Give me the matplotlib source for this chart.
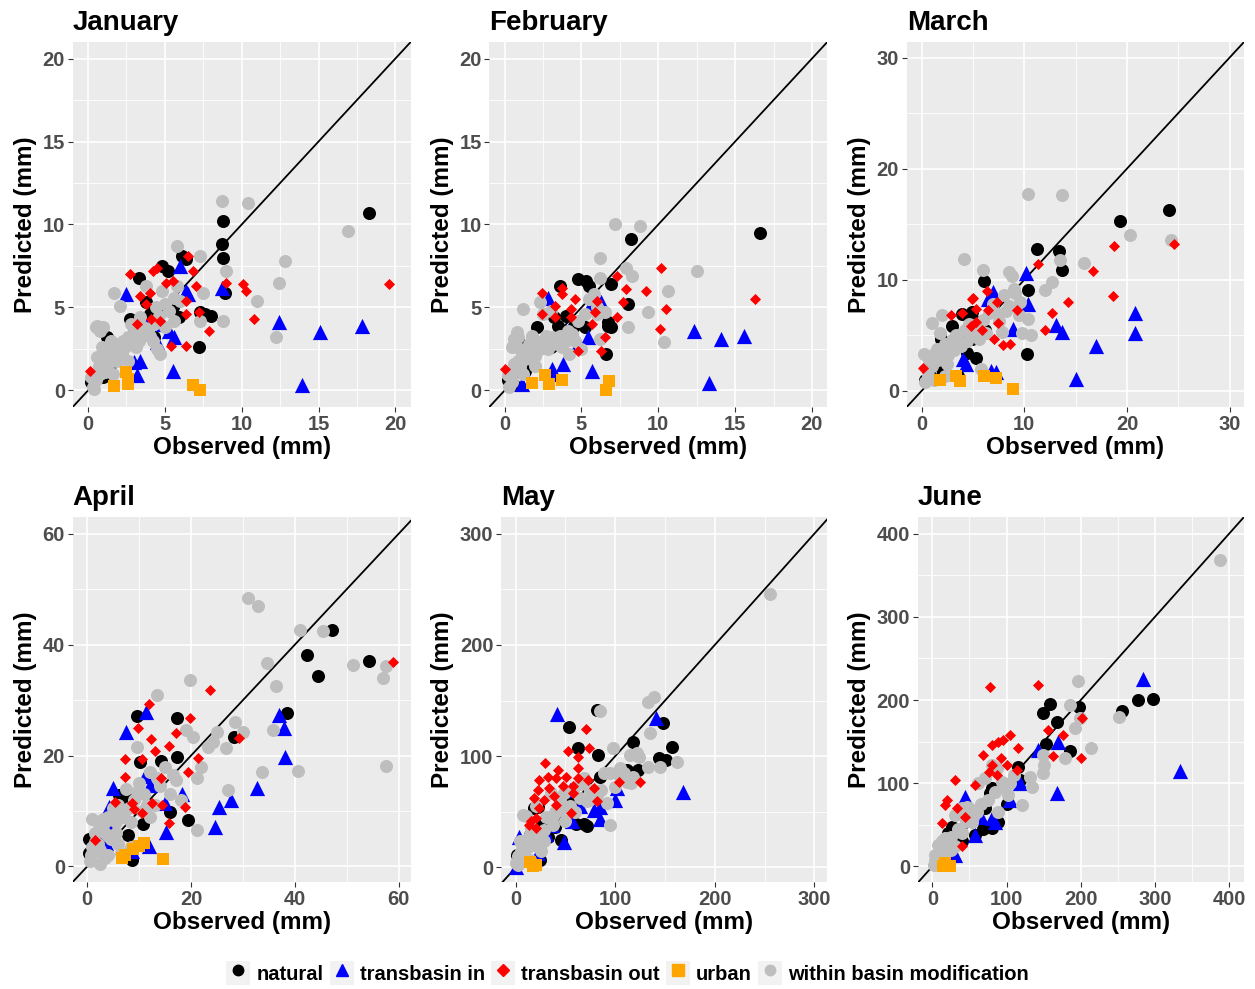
import matplotlib.pyplot as plt
from matplotlib.lines import Line2D
from matplotlib.patches import Patch
from matplotlib.legend_handler import HandlerTuple
from matplotlib.ticker import MultipleLocator

plt.rcParams['font.family'] = ['Liberation Sans', 'DejaVu Sans']
plt.rcParams['font.weight'] = 'bold'

# ------------------------------------------------
# data: (observed, predicted) pairs
# ------------------------------------------------
groups = ['natural', 'transbasin in', 'transbasin out', 'urban', 'within basin modification']
months = ['January', 'February', 'March', 'April', 'May', 'June']

jan_natural = [(18.3, 10.7), (8.8, 10.2), (8.7, 8.8), (8.8, 8.0), (8.9, 5.9), (7.6, 4.6), (8.0, 4.5), (7.3, 4.7),
               (7.2, 2.6), (6.1, 8.1), (6.4, 7.9), (4.8, 7.5), (5.2, 7.2), (3.3, 6.8), (3.8, 5.3), (4.0, 4.6),
               (2.7, 4.3), (4.3, 3.2), (1.2, 3.2), (1.4, 1.2), (5.9, 4.4), (5.5, 5.0), (0.2, 0.5), (1.0, 0.8), (2.0, 2.4)]
jan_trans_in = [(17.8, 3.9), (15.1, 3.5), (12.4, 4.1), (13.9, 0.35), (8.7, 6.2), (5.5, 1.2), (5.3, 3.6), (6.0, 7.5),
                (6.4, 6.0), (6.5, 5.8), (2.5, 5.8), (3.4, 1.8), (3.2, 0.9), (4.5, 2.9), (3.6, 4.3), (2.7, 3.4),
                (4.9, 4.0), (5.6, 3.2), (3.0, 1.7), (1.2, 1.8)]
jan_trans_out = [(19.6, 6.4), (10.8, 4.3), (10.1, 6.4), (10.3, 6.0), (9.0, 6.5), (7.9, 3.6), (7.2, 4.7), (7.0, 6.3),
                 (6.8, 7.2), (6.5, 8.1), (6.4, 4.6), (6.4, 2.7), (5.4, 2.7), (6.4, 5.4), (2.7, 7.0), (4.2, 7.2),
                 (4.5, 7.4), (3.4, 5.7), (4.0, 5.9), (5.1, 6.5), (5.5, 6.6), (4.1, 4.3), (3.2, 4.0), (4.7, 4.2),
                 (0.1, 1.2), (3.8, 5.2)]
jan_urban = [(1.7, 0.25), (2.5, 1.1), (2.6, 0.4), (2.6, 0.7), (6.8, 0.3), (7.3, 0.0)]
jan_within = [(8.7, 11.4), (10.4, 11.3), (16.9, 9.6), (12.8, 7.8), (12.4, 6.5), (11.0, 5.4), (12.2, 3.2), (8.8, 4.2),
              (9.0, 7.2), (7.3, 8.1), (5.8, 8.7), (1.7, 5.9), (2.1, 5.1), (0.6, 3.9), (1.0, 3.8), (7.3, 4.2),
              (4.7, 2.2), (7.5, 5.9), (0.3, 0.2), (0.5, 0.6), (0.8, 1.0), (1.0, 1.5), (1.3, 2.0), (1.5, 2.5),
              (1.8, 2.2), (2.0, 2.8), (2.3, 3.0), (2.6, 3.2), (3.0, 3.5), (3.3, 3.0), (3.6, 3.8), (4.0, 3.3),
              (4.3, 4.0), (4.6, 4.5), (5.0, 5.2), (5.3, 4.8), (5.6, 5.6), (4.8, 6.0), (3.8, 6.3), (0.6, 2.0),
              (0.9, 2.6), (1.2, 2.4), (2.6, 1.8), (1.6, 1.0), (0.4, 0.1), (5.0, 3.8), (6.0, 5.4), (4.5, 2.5),
              (0.2, 0.8), (0.7, 1.5), (1.1, 1.1), (1.4, 1.7), (1.9, 1.8), (2.2, 2.2), (2.4, 2.6), (2.8, 2.9),
              (3.1, 2.6), (3.5, 3.3), (3.9, 3.6), (4.2, 3.0), (0.5, 3.8), (0.8, 3.6), (1.5, 3.0), (2.8, 4.0),
              (4.4, 5.0), (3.4, 4.4), (5.8, 6.3), (5.6, 4.2)]

feb_natural = [(16.6, 9.5), (8.2, 9.1), (8.0, 5.2), (6.9, 6.4), (6.9, 3.8), (6.7, 4.1), (6.6, 2.2), (4.8, 6.7),
               (5.3, 6.6), (5.5, 6.3), (5.2, 3.8), (4.5, 3.9), (3.6, 6.3), (3.2, 4.4), (3.5, 3.9), (3.4, 3.1),
               (2.1, 3.8), (1.0, 2.8), (1.3, 1.2), (0.2, 0.6), (6.7, 3.9), (4.0, 4.5), (3.0, 2.6), (0.6, 0.3)]
feb_trans_in = [(12.3, 3.6), (14.1, 3.1), (15.6, 3.3), (13.3, 0.45), (5.7, 1.2), (5.4, 3.2), (5.6, 5.2), (2.8, 5.6),
                (3.8, 1.6), (3.1, 1.3), (4.0, 3.6), (1.7, 2.0), (1.1, 0.4), (6.3, 5.3), (4.8, 2.8), (1.7, 3.2),
                (2.2, 2.9), (3.1, 1.0)]
feb_trans_out = [(16.3, 5.5), (10.2, 7.4), (10.5, 4.9), (10.1, 3.7), (9.2, 6.0), (7.9, 6.1), (7.7, 5.3), (7.3, 6.9),
                 (7.3, 4.4), (6.5, 3.2), (6.3, 2.4), (5.9, 4.7), (5.7, 4.0), (4.8, 2.4), (4.3, 4.9), (4.6, 5.5),
                 (3.7, 6.2), (3.7, 5.8), (3.3, 5.1), (2.4, 4.6), (2.4, 5.9), (0.0, 1.3), (6.0, 5.4), (3.3, 4.4),
                 (4.3, 4.4)]
feb_urban = [(1.8, 0.45), (2.6, 0.9), (2.9, 0.4), (3.7, 0.65), (6.6, 0.0), (6.8, 0.55)]
feb_within = [(7.2, 10.0), (8.8, 9.9), (6.2, 8.0), (6.2, 6.8), (12.5, 7.2), (10.6, 6.0), (9.3, 4.7), (10.4, 2.9),
              (8.0, 3.8), (7.9, 7.4), (8.3, 6.9), (1.2, 4.9), (2.3, 5.3), (0.6, 3.1), (0.8, 3.5), (6.5, 4.7),
              (6.2, 3.1), (0.3, 0.2), (0.5, 0.5), (0.7, 1.2), (0.9, 1.8), (1.1, 2.2), (1.4, 2.5), (1.6, 2.0),
              (1.9, 2.4), (2.2, 2.8), (2.5, 3.0), (2.8, 2.5), (3.1, 3.2), (3.4, 2.8), (3.7, 2.6), (4.0, 3.0),
              (4.4, 3.4), (4.8, 4.2), (5.5, 5.5), (6.0, 5.0), (0.4, 1.0), (1.2, 1.0), (2.0, 1.5), (2.5, 4.6),
              (3.0, 4.8), (4.2, 2.2), (1.8, 3.3), (5.0, 2.5), (6.0, 4.6), (0.8, 2.6),
              (0.2, 0.9), (0.6, 1.6), (1.0, 1.4), (1.3, 1.9), (1.6, 2.8), (2.0, 2.1), (2.3, 2.5), (2.7, 3.3),
              (3.2, 2.9), (3.6, 3.3), (4.1, 3.6), (4.6, 3.0), (0.5, 2.6), (0.9, 3.2), (5.2, 4.6), (5.8, 5.8)]

mar_natural = [(24.1, 16.3), (19.3, 15.3), (11.2, 12.8), (13.4, 12.6), (13.7, 10.9), (10.4, 9.1), (10.3, 3.3),
               (6.1, 9.9), (4.9, 7.1), (4.9, 4.7), (4.4, 3.4), (5.3, 3.0), (3.5, 1.3), (3.0, 5.8), (1.9, 4.7),
               (2.0, 2.0), (0.7, 1.5), (5.4, 6.2), (3.9, 6.9), (6.2, 5.5), (4.9, 6.5), (0.3, 1.0)]
mar_trans_in = [(20.8, 7.0), (20.8, 5.2), (17.0, 4.0), (15.0, 1.1), (13.7, 5.3), (13.1, 5.9), (10.4, 7.8),
                (10.2, 10.6), (7.0, 8.9), (6.8, 7.4), (6.5, 8.3), (8.9, 5.6), (6.8, 1.8), (4.3, 2.4), (4.0, 2.9),
                (2.2, 3.8), (4.7, 5.6), (1.8, 3.4), (7.2, 1.7)]
mar_trans_out = [(24.6, 13.2), (18.7, 13.0), (18.6, 8.5), (16.7, 10.8), (14.3, 8.0), (12.7, 7.0), (12.0, 5.5),
                 (11.3, 11.4), (9.3, 7.3), (8.6, 4.2), (7.9, 4.1), (7.4, 6.1), (7.1, 4.7), (5.9, 5.5), (4.9, 8.3),
                 (3.9, 7.0), (2.9, 6.8), (0.1, 2.1), (6.4, 9.0), (5.0, 8.4), (5.3, 7.4), (5.3, 6.2), (6.5, 7.3),
                 (7.3, 8.0), (4.8, 5.8)]
mar_urban = [(8.9, 0.2), (7.2, 1.2), (6.1, 1.3), (3.7, 0.9), (3.4, 1.3), (1.8, 1.0)]
mar_within = [(10.4, 17.7), (13.7, 17.6), (20.3, 14.0), (24.3, 13.6), (15.8, 11.5), (13.5, 11.8), (4.1, 11.9),
              (1.0, 6.1), (6.0, 10.9), (8.5, 10.7), (12.7, 9.8), (12.0, 9.1), (10.4, 6.5), (10.7, 5.0), (9.8, 5.2),
              (5.8, 2.0), (2.0, 6.8), (9.1, 8.8), (8.8, 10.3), (0.3, 0.8), (0.6, 1.4), (0.8, 2.3), (1.0, 3.0),
              (1.3, 3.4), (1.6, 2.8), (2.0, 3.6), (2.3, 4.2), (2.6, 3.2), (3.0, 4.6), (3.4, 5.0), (3.8, 4.0),
              (4.2, 5.5), (4.6, 6.0), (5.0, 5.2), (5.6, 4.7), (6.0, 6.4), (6.6, 7.0), (7.0, 7.8), (7.5, 6.3),
              (8.0, 8.6), (8.5, 7.6), (9.0, 9.2), (9.5, 6.8), (7.8, 5.3), (0.2, 3.3), (2.3, 1.3), (1.2, 1.0),
              (0.5, 1.9), (1.0, 2.2), (1.5, 3.8), (2.5, 2.4), (3.2, 3.7), (3.6, 4.4), (4.4, 4.5), (5.2, 5.9),
              (6.3, 5.2), (7.2, 7.0), (8.2, 7.2), (1.8, 5.2), (0.6, 3.0), (9.6, 8.0)]

apr_natural = [(54.3, 37.1), (42.4, 38.1), (44.5, 34.3), (47.2, 42.6), (38.4, 27.7), (28.3, 23.4), (17.3, 26.8),
               (9.5, 27.2), (17.3, 19.7), (14.3, 19.0), (10.1, 18.9), (16.0, 9.8), (19.4, 8.4), (10.8, 7.7),
               (7.9, 5.6), (8.7, 1.2), (3.3, 4.6), (0.3, 2.5), (6.2, 12.9), (8.2, 12.9), (0.4, 5.0), (7.0, 12.2)]
apr_trans_in = [(37.0, 27.3), (37.9, 24.9), (38.1, 19.8), (32.7, 14.1), (27.6, 11.9), (25.3, 10.7), (24.7, 7.2),
                (15.2, 6.2), (7.5, 24.3), (11.4, 27.9), (4.9, 14.2), (11.1, 16.3), (12.1, 14.6), (18.2, 13.0),
                (15.0, 11.5), (8.6, 2.7), (2.5, 5.1), (4.3, 6.6), (11.8, 3.6), (4.1, 10.8), (3.6, 4.3)]
apr_trans_out = [(58.8, 36.8), (23.7, 31.8), (11.8, 29.2), (9.8, 24.9), (19.8, 26.7), (17.1, 24.1), (15.7, 21.7),
                 (12.3, 22.9), (13.0, 20.9), (7.3, 19.4), (7.3, 16.2), (10.5, 19.3), (14.3, 15.9), (21.3, 19.5),
                 (19.5, 17.1), (29.3, 23.1), (18.9, 10.8), (14.4, 11.1), (12.5, 11.4), (8.6, 11.4), (5.3, 11.7),
                 (15.7, 7.8), (10.5, 9.6), (1.5, 4.8), (9.0, 10.3)]
apr_urban = [(14.5, 1.3), (10.9, 4.2), (9.9, 3.6), (8.8, 3.2), (7.3, 2.1), (6.6, 1.5)]
apr_within = [(31.0, 48.4), (32.8, 46.9), (41.0, 42.6), (45.4, 42.4), (51.1, 36.4), (57.0, 34.0), (57.6, 36.2),
              (57.6, 18.2), (34.7, 36.6), (36.3, 32.6), (35.7, 24.6), (33.6, 17.0), (40.6, 17.3), (28.4, 26.0),
              (30.0, 24.3), (26.8, 21.3), (23.3, 21.6), (24.3, 22.5), (22.0, 18.0), (27.2, 13.8), (19.8, 33.7),
              (13.4, 31.0), (21.1, 16.0), (21.1, 6.6), (9.5, 21.6), (19.1, 24.6), (20.4, 23.4), (24.9, 24.3),
              (0.5, 1.0), (1.0, 3.5), (1.5, 6.0), (2.0, 4.0), (2.5, 7.0), (3.0, 8.5), (3.5, 6.0), (4.0, 9.0),
              (4.5, 5.0), (5.0, 10.5), (5.5, 8.0), (6.0, 11.0), (7.0, 9.0), (7.5, 14.0), (8.0, 10.5), (9.0, 12.0),
              (10.0, 15.0), (11.0, 13.0), (12.0, 17.0), (13.0, 11.0), (14.0, 14.5), (15.0, 18.0), (16.0, 13.0),
              (18.0, 12.0), (1.0, 8.5), (2.5, 0.5), (4.0, 2.0), (6.5, 2.5), (3.0, 2.0), (8.5, 3.5), (12.0, 9.0),
              (16.5, 16.5), (0.8, 2.0), (1.5, 4.5), (2.5, 3.0), (3.5, 8.0), (5.5, 6.0), (6.5, 9.5), (8.5, 8.0),
              (9.5, 13.5), (11.5, 11.0), (13.5, 16.0), (2.0, 8.0), (4.0, 5.5), (10.5, 10.0), (17.0, 15.5),
              (6.0, 4.0), (3.5, 1.5)]

may_natural = [(54, 126.6), (62.6, 107.2), (83, 100.8), (82, 141.6), (118, 112.6), (148, 129.6), (157.3, 108.7),
               (144, 98.2), (151.5, 96.7), (112, 87.7), (123, 87.7), (85, 81.7), (56.5, 58.6), (22.5, 54),
               (34, 37.6), (61, 39), (69, 38.6), (72, 36.8), (46, 24.9), (24, 6.9), (1, 11.4), (32.8, 27),
               (14.4, 29.3), (18.7, 53.4), (40, 36), (26, 40)]
may_trans_in = [(42, 138), (141.3, 134.1), (167.7, 68), (54.2, 69.8), (64.2, 54.8), (99.8, 60.8), (84.5, 53.9),
                (84.5, 43.5), (57, 41.3), (48.4, 22.6), (101.9, 71.6), (36.2, 38.3), (79, 51.8), (3.6, 27.8),
                (22, 12.9), (0, 0), (30, 30)]
may_trans_out = [(70.6, 124), (52.5, 104.5), (62.6, 99), (73.5, 107.2), (29, 94), (125, 77), (104, 76.5),
                 (81.4, 60), (56, 48.8), (15.5, 41.3), (20.4, 44.3), (23.7, 78.8), (32.1, 81.7), (40.5, 80.3),
                 (50.5, 81.2), (62.3, 80.3), (72.3, 78.8), (22.1, 69.8), (33.4, 71.3), (47.2, 72.8), (57.2, 72.8),
                 (62.3, 89.3), (28.7, 60.8), (38.8, 63.8), (18.7, 62.3), (42.2, 87.8), (79, 71.3), (23.7, 53.4),
                 (40.5, 56.3), (57.2, 66.8), (13.7, 38.4), (20, 35)]
may_urban = [(14.4, 4.5), (17.7, 0.9), (20.0, 2.0)]
may_within = [(255, 245.5), (84.7, 140.7), (132.6, 149.1), (139.2, 153.6), (135, 120.7), (98, 107.2), (114.8, 101.2),
              (121.5, 102.7), (145, 90.7), (161.7, 94.6), (95, 38), (104.8, 89.2), (111.5, 77.2), (91.4, 57.8),
              (71.3, 59.3), (81.4, 65.3), (44.5, 51.8), (14.4, 29.3), (7.7, 47.3), (4.4, 23.4), (14.4, 6.9),
              (57.9, 69.8), (37.8, 38.3), (104.8, 81.7), (118, 81.7), (124, 99.7), (132.6, 90.7), (115.8, 75.8),
              (85.7, 69.8), (68.9, 80.3), (89, 84.8), (109, 84.8), (73.9, 60.8), (10.3, 45.8), (5.3, 21.9),
              (8.6, 12.9), (37.2, 45.8), (48.8, 66.8), (35.5, 66.8), (28.7, 33.9), (18.7, 20.4), (0, 4), (25, 15),
              (60, 50), (50, 42), (20, 55), (2, 10), (5, 15), (10, 25), (15, 35), (20, 30), (30, 45), (40, 50),
              (45, 60), (55, 55), (65, 62), (75, 70), (2, 2), (12, 18), (28, 24), (65, 75), (95, 85), (100, 72)]

jun_natural = [(297.6, 201.2), (277.4, 200), (256, 186.8), (198, 191.2), (158.5, 194.8), (149.5, 184), (167.5, 174),
               (152.6, 146.8), (185.4, 138.8), (115, 120), (118, 104), (80, 94), (77.7, 88), (89, 54), (80, 46),
               (68.7, 45), (57.5, 38), (26, 48), (21.5, 40), (71, 70), (12.6, 14), (40, 30), (100, 75)]
jun_trans_in = [(284.2, 225.2), (333.6, 115.2), (167.5, 88), (169.7, 150), (142.8, 140), (118, 100), (104.6, 80),
                (44, 84), (84.4, 54), (80, 58), (57.5, 38), (30.5, 14), (65, 60)]
jun_trans_out = [(77.7, 215.2), (142, 218), (202, 178), (201, 130), (176.4, 158), (156.2, 164), (115, 142.8),
                 (104.6, 158), (95.6, 152), (89, 150), (80, 146), (68.7, 134), (76.3, 114), (87.5, 110), (92, 130),
                 (101, 122), (57.5, 98), (30.5, 104), (44, 60), (12.6, 52), (19.3, 80), (17.1, 74), (32.8, 70),
                 (39.5, 24), (80, 122), (113.6, 116), (162, 133)]
jun_urban = [(14.8, 0.5), (23.8, 0.5), (17, 4)]
jun_within = [(387.4, 368), (195.7, 222.8), (185.4, 194), (192.1, 166), (198.4, 178), (251.4, 180), (213.7, 142),
              (178.7, 130), (149.5, 134), (151, 122), (149.5, 112), (134.7, 96), (131.6, 108), (102.4, 86),
              (93.4, 102), (70.9, 106), (62, 100), (46.2, 72), (30.5, 62), (17.1, 34), (8, 26), (3.6, 14),
              (86.6, 118), (79.9, 122), (120.3, 74), (88.9, 66), (39.5, 70), (53, 54), (3.6, 6), (12.6, 30),
              (25, 20), (60, 65), (35, 45), (110, 110), (5, 10), (10, 20), (15, 12), (20, 30), (30, 25), (40, 40),
              (45, 55), (55, 60), (65, 75), (75, 80), (85, 90), (95, 95), (2, 2), (25, 35), (50, 70), (105, 100)]

panel_data = {
    'January': [jan_natural, jan_trans_in, jan_trans_out, jan_urban, jan_within],
    'February': [feb_natural, feb_trans_in, feb_trans_out, feb_urban, feb_within],
    'March': [mar_natural, mar_trans_in, mar_trans_out, mar_urban, mar_within],
    'April': [apr_natural, apr_trans_in, apr_trans_out, apr_urban, apr_within],
    'May': [may_natural, may_trans_in, may_trans_out, may_urban, may_within],
    'June': [jun_natural, jun_trans_in, jun_trans_out, jun_urban, jun_within],
}

# axis limits and tick step per month
xlims = {'January': (-1, 21), 'February': (-1, 21), 'March': (-1.45, 31.4),
         'April': (-2.8, 62.3), 'May': (-14.7, 313), 'June': (-19.7, 420)}
ylims = {'January': (-1, 21), 'February': (-1, 21), 'March': (-1.45, 31.4),
         'April': (-2.8, 63), 'May': (-13.1, 315), 'June': (-18.7, 420)}
steps = {'January': 5, 'February': 5, 'March': 10, 'April': 20, 'May': 100, 'June': 100}

# ------------------------------------------------
# styles
# ------------------------------------------------
colors = ['black', '#0000FF', '#FF0000', '#FFA500', '#BEBEBE']
markers = ['o', '^', 'D', 's', 'o']
sizes = [88, 120, 32, 66, 88]
draw_order = [0, 1, 4, 2, 3]

W, H = 1255, 989
fig = plt.figure(figsize=(W / 100, H / 100), dpi=100)

# panel boxes in pixels: left, right, top, bottom
boxes = {'January': (72.7, 410.7, 42, 407), 'February': (489.3, 827.3, 42, 407),
         'March': (906.7, 1244, 42, 407), 'April': (72.7, 410.7, 517, 882),
         'May': (501, 827.3, 517, 882), 'June': (917.7, 1244, 517, 882)}

for m in months:
    l, r, t, b = boxes[m]
    ax = fig.add_axes([l / W, 1 - b / H, (r - l) / W, (b - t) / H])
    ax.set_facecolor('#EBEBEB')
    for s in ax.spines.values():
        s.set_visible(False)
    ax.set_xlim(xlims[m])
    ax.set_ylim(ylims[m])
    st = steps[m]
    ax.xaxis.set_major_locator(MultipleLocator(st))
    ax.yaxis.set_major_locator(MultipleLocator(st))
    ax.xaxis.set_minor_locator(MultipleLocator(st / 2))
    ax.yaxis.set_minor_locator(MultipleLocator(st / 2))
    ax.grid(which='major', color='white', lw=1.2)
    ax.grid(which='minor', color='white', lw=0.6)
    ax.set_axisbelow(True)
    ax.tick_params(which='major', length=3.5, width=0.8, color='#333333',
                   labelcolor='#4D4D4D', labelsize=14.5, pad=2)
    ax.tick_params(which='minor', length=0)

    ax.axline((0, 0), slope=1, color='black', lw=1.3, zorder=1)

    for i in draw_order:
        pts = panel_data[m][i]
        ax.scatter([p[0] for p in pts], [p[1] for p in pts], s=sizes[i], c=colors[i],
                   marker=markers[i], linewidths=0, zorder=2 + draw_order.index(i))

    ax.set_xlabel('Observed (mm)', fontsize=17.5, fontweight='bold', labelpad=2)
    ax.set_ylabel('Predicted (mm)', fontsize=17.5, fontweight='bold', labelpad=4)
    ax.set_title(m, loc='left', fontsize=20, fontweight='bold', pad=9)

# legend with grey key backgrounds
handles = []
for i in range(5):
    handles.append((Patch(facecolor='#F2F2F2', edgecolor='none'),
                    Line2D([], [], ls='', marker=markers[i], color=colors[i],
                           markersize=[7.5, 9, 6, 8, 7.5][i])))
fig.legend(handles, groups, loc='center', bbox_to_anchor=(0.5, 1 - 973 / H), ncol=5, frameon=False,
           handler_map={tuple: HandlerTuple(ndivide=1, pad=0)},
           handlelength=1.2, handleheight=1.5, handletextpad=0.3, columnspacing=0.3,
           prop={'size': 14.5, 'weight': 'bold'})

plt.savefig('out.png', dpi=100)
